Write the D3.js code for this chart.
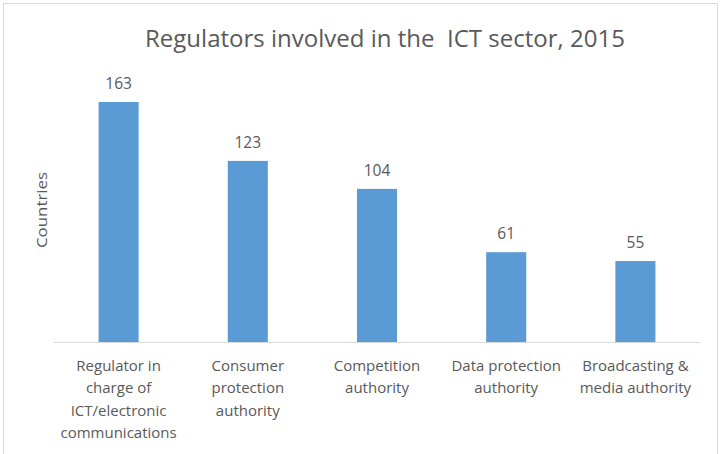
<!DOCTYPE html>
<html>
<head>
<meta charset="utf-8">
<script src="https://cdn.jsdelivr.net/npm/d3@7"></script>
<style>
  body { margin: 0; background: #fff; }
  text { font-family: "Open Sans", "DejaVu Sans", sans-serif; fill: #595959; }
</style>
</head>
<body>
<div id="chart"></div>
<script>
const categories = [
  ["Regulator in", "charge of", "ICT/electronic", "communications"],
  ["Consumer", "protection", "authority"],
  ["Competition", "authority"],
  ["Data protection", "authority"],
  ["Broadcasting &", "media authority"]
];
const values = [163, 123, 104, 61, 55];
const titleText = "Regulators involved in the  ICT sector, 2015";
const yLabel = "Countries";

const W = 720, H = 454;
const margin = { left: 54, right: 700, baseline: 342 };

const svg = d3.select("#chart").append("svg")
    .attr("width", W)
    .attr("height", H);

// chart border
svg.append("rect")
    .attr("x", 3.5).attr("y", 3.5)
    .attr("width", 714).attr("height", 470)
    .attr("fill", "#fff")
    .attr("stroke", "#d9d9d9");

const x = d3.scaleBand()
    .domain(d3.range(values.length))
    .range([margin.left, margin.right])
    .paddingInner(0.69)
    .paddingOuter(0.345);

const y = d3.scaleLinear()
    .domain([0, 163])
    .range([margin.baseline, 102]);

svg.append("text")
    .attr("x", 385).attr("y", 47)
    .attr("text-anchor", "middle")
    .attr("font-size", 23)
    .attr("textLength", 480)
    .attr("lengthAdjust", "spacingAndGlyphs")
    .style("white-space", "pre")
    .text(titleText);

svg.append("text")
    .attr("transform", "translate(47,210) rotate(-90)")
    .attr("text-anchor", "middle")
    .attr("font-size", 15)
    .attr("textLength", 76)
    .attr("lengthAdjust", "spacingAndGlyphs")
    .text(yLabel);

svg.selectAll("rect.bar")
  .data(values)
  .join("rect")
    .attr("class", "bar")
    .attr("x", (d, i) => x(i))
    .attr("y", d => y(d))
    .attr("width", x.bandwidth())
    .attr("height", d => y(0) - y(d))
    .attr("fill", "#5b9bd5");

svg.selectAll("text.val")
  .data(values)
  .join("text")
    .attr("class", "val")
    .attr("x", (d, i) => x(i) + x.bandwidth() / 2)
    .attr("y", d => y(d) - 13)
    .attr("text-anchor", "middle")
    .attr("font-size", 15.5)
    .text(d => d);

// baseline
svg.append("line")
    .attr("x1", margin.left).attr("x2", margin.right)
    .attr("y1", y(0) + 0.5).attr("y2", y(0) + 0.5)
    .attr("stroke", "#d9d9d9");

const labels = svg.selectAll("text.cat")
  .data(categories)
  .join("text")
    .attr("class", "cat")
    .attr("text-anchor", "middle")
    .attr("font-size", 15)
    .attr("x", (d, i) => x(i) + x.bandwidth() / 2)
    .attr("y", 371);

labels.selectAll("tspan")
  .data(d => d)
  .join("tspan")
    .attr("x", function() { return d3.select(this.parentNode).attr("x"); })
    .attr("dy", (d, i) => i === 0 ? 0 : 22.3)
    .text(d => d);
</script>
</body>
</html>
